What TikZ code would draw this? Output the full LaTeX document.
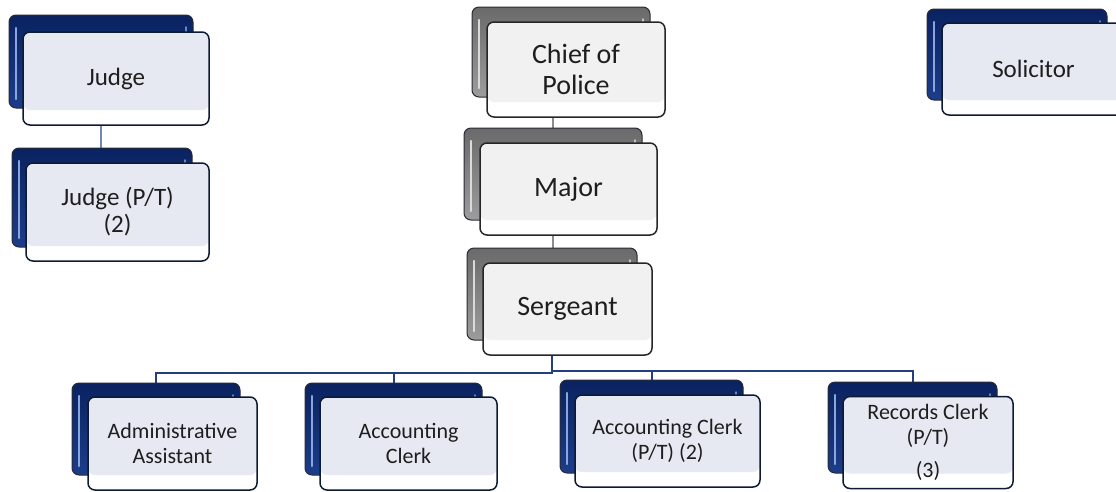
\documentclass[tikz,border=0pt]{standalone}
\usepackage{fontspec}
\setmainfont{Carlito}
\usetikzlibrary{backgrounds}
\definecolor{navyA}{HTML}{0A2260}
\definecolor{navyB}{HTML}{1C3D8A}
\definecolor{backedge}{HTML}{2A2A35}
\definecolor{stripeB}{HTML}{8AA6DC}
\definecolor{grayA}{HTML}{6A6A6A}
\definecolor{grayB}{HTML}{9C9C9C}
\definecolor{stripeG}{HTML}{DADADA}
\definecolor{frontfillB}{HTML}{E6E9F2}
\definecolor{frontfillG}{HTML}{F1F1F1}
\definecolor{frontedgeB}{HTML}{0D1A33}
\definecolor{frontedgeG}{HTML}{262626}
\definecolor{textc}{HTML}{1E1E1E}
\definecolor{jlinec}{HTML}{7088B8}
\definecolor{glinec}{HTML}{8C8C8C}
\definecolor{busc}{HTML}{233F80}
\begin{document}
\begin{tikzpicture}[x=1pt,y=-1pt,
  wh/.style 2 args={minimum width=#1pt, minimum height=#2pt},
  backbase/.style={rounded corners=7pt, line width=1pt, inner sep=0pt, draw=backedge},
  back/.style={backbase, top color=navyA, bottom color=navyB,
    path picture={\draw[line width=2.5pt, stripeB, line cap=round]
      ([xshift=7pt,yshift=-13pt]path picture bounding box.north west) --
      ([xshift=7pt,yshift=9pt]path picture bounding box.south west);
      \draw[line width=1.5pt, stripeB!70!navyB, line cap=round]
      ([xshift=-7pt,yshift=-12pt]path picture bounding box.north east) --
      ([xshift=-7pt,yshift=-20pt]path picture bounding box.north east);}},
  gback/.style={backbase, top color=grayA, bottom color=grayB,
    path picture={\draw[line width=2.5pt, stripeG, line cap=round]
      ([xshift=7pt,yshift=-13pt]path picture bounding box.north west) --
      ([xshift=7pt,yshift=9pt]path picture bounding box.south west);
      \draw[line width=1.5pt, stripeG!80!grayA, line cap=round]
      ([xshift=-7pt,yshift=-12pt]path picture bounding box.north east) --
      ([xshift=-7pt,yshift=-20pt]path picture bounding box.north east);}},
  frontbase/.style={rounded corners=7pt, line width=1.5pt, fill=white, inner sep=2pt,
    align=center, text=textc},
  front/.style={frontbase, draw=frontedgeB,
    path picture={\fill[frontfillB] (path picture bounding box.north west) rectangle
      ([yshift=15pt]path picture bounding box.south east);}},
  gfront/.style={frontbase, draw=frontedgeG,
    path picture={\fill[frontfillG] (path picture bounding box.north west) rectangle
      ([yshift=15pt]path picture bounding box.south east);}},
  bigfont/.style={font=\fontsize{28}{31}\selectfont},
  midfont/.style={font=\fontsize{25}{27}\selectfont},
  smallfont/.style={font=\fontsize{22}{25}\selectfont},
  jline/.style={draw=jlinec, line width=1.5pt},
  gline/.style={draw=glinec, line width=1.5pt},
  bus/.style={draw=busc, line width=2pt}
]
\useasboundingbox (0,0) rectangle (1116,491);

% Court
\node[back, wh={184}{93}] (judgeb) at (101,61.5) {};
\node[front, wh={186}{93}, midfont] (judge) at (116,78.5) {Judge};
\node[back, wh={180}{99}] (judgeptb) at (102,197.5) {};
\node[front, wh={183}{98}, midfont] (judgept) at (117.5,212) {Judge (P/T)\\(2)};

% Police
\node[gback, wh={178}{90}] (chiefb) at (561,52) {};
\node[gfront, wh={178}{95}, bigfont] (chief) at (576,69.5) {Chief of\\Police};
\node[gback, wh={178}{92}] (majorb) at (553,174) {};
\node[gfront, wh={177}{92}, bigfont] (major) at (568.5,189) {Major};
\node[gback, wh={170}{92}] (sergb) at (552,294) {};
\node[gfront, wh={169}{92}, bigfont] (serg) at (567.5,309) {Sergeant};

% Solicitor
\node[back, wh={180}{91}] (solb) at (1017,54.5) {};
\node[front, wh={183}{92}, midfont] (sol) at (1033.5,69) {Solicitor};

% Staff
\node[back, wh={168}{92}] (adminb) at (156,429) {};
\node[front, wh={169}{93}, smallfont] (admin) at (172.5,443.5) {Administrative\\Assistant};
\node[back, wh={177}{92}] (acctb) at (393.5,429) {};
\node[front, wh={177}{93}, smallfont] (acct) at (408.5,443.5) {Accounting\\Clerk};
\node[back, wh={183}{93}] (acctptb) at (651.5,426.5) {};
\node[front, wh={185}{92}, smallfont] (acctpt) at (667.5,441) {Accounting Clerk\\(P/T) (2)};
\node[back, wh={169}{91}] (recb) at (912.5,427.5) {};
\node[front, wh={170}{92}, smallfont] (rec) at (928,442.5) {Records Clerk\\(P/T)\\[8pt](3)};

\begin{pgfonlayer}{background}
\draw[jline] (judgeb.south) -- (judgeb.south |- judgeptb.north);
\draw[gline] (chiefb.south -| majorb.north) -- (majorb.north);
\draw[gline] (majorb.south) -- (majorb.south |- sergb.north);
\draw[bus] (sergb.south) -- ++(0,32) -| (adminb.north);
\draw[bus] (sergb.south) -- ++(0,32) -| (acctb.north);
\draw[bus] (sergb.south) -- ++(0,30) -| (acctptb.north);
\draw[bus] (sergb.south) -- ++(0,30) -| (recb.north);
\end{pgfonlayer}
\end{tikzpicture}
\end{document}
